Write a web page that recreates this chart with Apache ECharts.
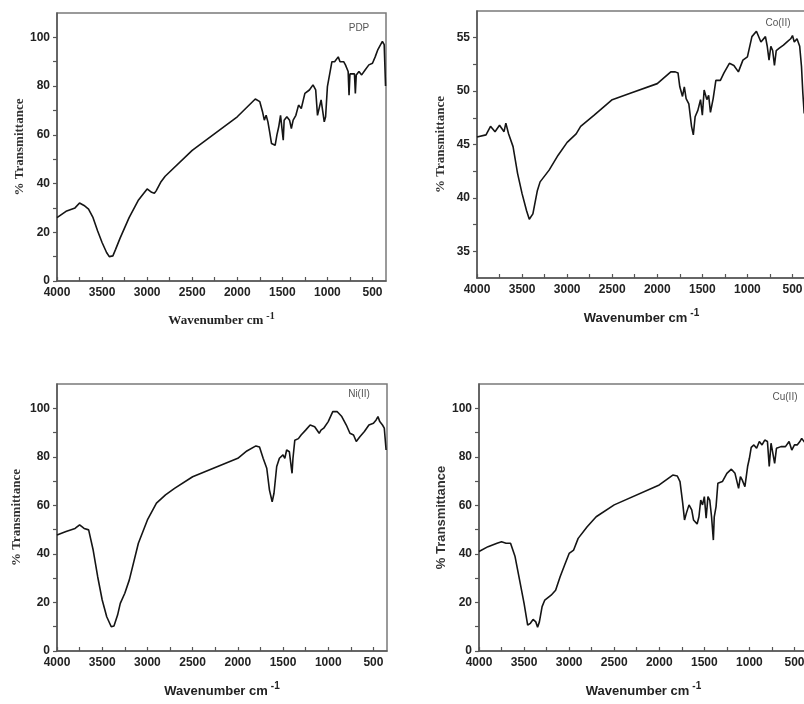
<!DOCTYPE html>
<html>
<head>
    <meta charset="utf-8">
    <title>FTIR spectra</title>
    <script src="https://cdn.jsdelivr.net/npm/echarts@6/dist/echarts.min.js"></script>
    <style>
        body { margin: 0; background: #fff; }
    </style>
</head>
<body>
    <div id="irChart" style="width: 804px;height:704px;"></div>
    <script type="text/javascript">
        // spectra: wavenumber (cm-1) and % transmittance
        var pdpWave = [4000,3900,3800,3750,3700,3650,3600,3550,3500,3450,3420,3380,3350,3300,3200,3100,3000,2980,2950,2920,2900,2850,2800,2500,2000,1800,1780,1750,1720,1700,1680,1660,1640,1620,1580,1560,1540,1520,1500,1490,1480,1450,1420,1400,1380,1350,1320,1290,1250,1200,1160,1130,1110,1090,1070,1050,1035,1020,1000,980,950,920,900,880,860,820,800,770,760,750,700,690,680,650,620,580,540,500,470,440,410,390,370,355];
        var pdpT = [26,28.6,30,32,31,29.5,26,20.6,15.8,11.7,10,10.3,13,17.6,26,33,37.8,37.5,36.4,36,37,40.5,43,53.6,67.4,74.7,75,73.6,69.5,66,68,65.3,61,56.4,55.7,60,63.3,68,68.8,57.8,66,67.4,66,62.6,66,68,72.2,70.8,77,78.4,80.5,78.4,68,67.4,74.3,73.6,65.3,67.4,79.8,80.5,90,90,90.8,92,90,90,88.7,86,76.3,85,85,77,84.6,86,84.6,86.7,88.7,89.4,92,95,97,98.3,97,80];

        var coWave = [4000,3900,3850,3800,3750,3700,3680,3650,3600,3550,3500,3450,3420,3380,3330,3300,3200,3100,3000,2900,2850,2700,2500,2300,2000,1850,1800,1770,1750,1720,1700,1680,1650,1620,1600,1580,1550,1520,1500,1480,1450,1430,1410,1380,1350,1300,1260,1200,1150,1100,1050,1000,950,900,880,850,800,780,760,740,720,700,680,650,600,560,520,500,480,450,420,400,385,370];
        var coT = [45.7,45.9,46.7,46.2,46.8,46.2,47,46,44.8,42.3,40.4,38.8,38,38.5,40.7,41.5,42.6,44,45.2,46,46.7,47.75,49.2,49.8,50.7,51.8,51.8,51.7,50.4,49.5,50.4,49.3,48.8,46.7,45.9,47.6,48.2,49.2,47.75,50.1,49.2,49.6,48,49.3,51,51,51.7,52.6,52.4,51.8,52.9,53.2,55.1,55.6,55.6,54.6,55.1,54.2,52.9,54.2,53.8,52.4,53.8,54,54.3,54.6,54.9,55.2,54.6,54.9,54.2,52.3,49.8,47.9];

        var niWave = [4000,3900,3800,3750,3700,3650,3600,3550,3500,3450,3400,3370,3330,3300,3250,3200,3100,3000,2900,2800,2700,2500,2000,1900,1800,1760,1720,1700,1680,1650,1620,1600,1570,1540,1500,1480,1460,1430,1410,1400,1390,1370,1330,1300,1250,1200,1150,1100,1080,1050,1000,950,900,850,800,760,720,690,650,600,550,500,470,450,430,400,380,360];
        var niT = [47.8,49.2,50.5,52,50.5,49.9,41.6,30.6,21,14.1,10,10.3,14.8,19.6,23.8,29.3,44.4,54,60.9,64.3,67,71.8,79.4,82.4,84.5,84,79.4,78.7,75.3,66.3,61.5,65,76,79.4,80.8,79.4,82.8,82.1,76,73.2,79.4,86.8,87.5,89,91,93.1,92.4,89.7,91,91.8,94.5,98.6,98.6,96.6,93.1,89.7,89,86.3,88.3,90.4,93.1,93.8,95.2,96.6,94.5,93.1,91.8,82.8];

        var cuWave = [4000,3900,3800,3750,3700,3650,3600,3550,3500,3460,3430,3400,3370,3350,3330,3300,3270,3200,3150,3100,3050,3000,2950,2900,2800,2700,2500,2000,1850,1800,1770,1740,1720,1700,1670,1640,1620,1580,1560,1540,1520,1500,1480,1460,1440,1420,1400,1390,1370,1350,1300,1250,1200,1160,1120,1100,1080,1050,1020,1000,980,950,920,890,860,830,800,780,760,740,720,700,650,600,560,530,500,470,440,420,400,380];
        var cuT = [41,43,44.4,45,44.4,44.4,38.9,29.3,19.6,10.7,11.4,13,12,9.8,12,18.3,21,23,25,30.6,35.4,40.2,41.6,46.4,51.2,55.3,60.2,68.4,72.5,72.1,69.8,60.9,54,56.7,60.2,58.1,54,52.3,55.3,62.2,60.2,63.6,54.7,63.6,62.2,55.3,45.7,55.3,59.5,69.1,69.8,73.2,74.9,73.2,67,71.8,70.5,67.7,76,79.4,83.9,84.9,83.5,86.3,84.9,86.9,86.3,76,85.6,86.3,77.3,83.5,84.2,84.2,86.3,82.8,84.9,84.9,86.3,87.6,86.9,85.6];

        var panelNames = ['PDP', 'Co(II)', 'Ni(II)', 'Cu(II)'];
        var waveTicks = [4000, 3500, 3000, 2500, 2000, 1500, 1000, 500];
        var waveMinor = [3750, 3250, 2750, 2250, 1750, 1250, 750];
        var pctTicks = [0, 20, 40, 60, 80, 100];
        var coTicks = [35, 40, 45, 50, 55];
        var coMinor = [37.5, 42.5, 47.5, 52.5];

        function pairs(xs, ys) {
            return xs.map(function (x, i) { return [x, ys[i]]; });
        }
        function plain(v) { return String(v); }

        var sans = 'Liberation Sans, Arial, sans-serif';
        var serif = 'Liberation Serif, Times New Roman, serif';

        // grid boxes [left, top, width, height]; right panels run past the page edge
        var boxes = [[57, 13, 329, 268], [477, 11, 329, 267], [57, 384, 330, 267], [479, 384, 329, 267]];
        var xTitleFont = [serif, sans, sans, sans];
        var yTitleFont = [serif, serif, serif, sans];
        var yTitleGap = [29, 30, 34, 29];

        var grids = [], xAxes = [], yAxes = [], series = [];
        var datasets = [pairs(pdpWave, pdpT), pairs(coWave, coT), pairs(niWave, niT), pairs(cuWave, cuT)];

        boxes.forEach(function (b, i) {
            grids.push({
                left: b[0], top: b[1], width: b[2], height: b[3],
                outerBoundsMode: 'none',
                containLabel: false,
                show: true, borderColor: '#7a7a7a', borderWidth: 1.5,
                backgroundColor: 'transparent'
            });
            xAxes.push({
                gridIndex: i,
                type: 'value',
                min: 350, max: 4000,
                inverse: true,
                name: '{a|Wavenumber cm}{s|-1}',
                nameLocation: 'middle',
                nameGap: 30,
                nameTextStyle: {
                    rich: {
                        a: { fontFamily: xTitleFont[i], fontWeight: 'bold', fontSize: 13, color: '#222', lineHeight: 20 },
                        s: { fontFamily: xTitleFont[i], fontWeight: 'bold', fontSize: 10, color: '#222', verticalAlign: 'top', lineHeight: 10, padding: [0, 0, 0, 3] }
                    }
                },
                axisLine: { onZero: false, lineStyle: { color: '#555', width: 1.5 } },
                axisTick: { inside: true, length: 4, customValues: waveTicks.concat(waveMinor), lineStyle: { color: '#555', width: 1.2 } },
                axisLabel: { customValues: waveTicks, formatter: plain, margin: 6, fontFamily: sans, fontWeight: 'bold', fontSize: 12, color: '#222' },
                splitLine: { show: false }
            });
            var isCo = i === 1;
            yAxes.push({
                gridIndex: i,
                type: 'value',
                min: isCo ? 32.5 : 0,
                max: isCo ? 57.5 : 110,
                name: '% Transmittance',
                nameLocation: 'middle',
                nameRotate: 90,
                nameGap: yTitleGap[i],
                nameTextStyle: { fontFamily: yTitleFont[i], fontWeight: 'bold', fontSize: 13, color: '#333' },
                axisLine: { onZero: false, lineStyle: { color: '#555', width: 1.5 } },
                axisTick: {
                    length: 4,
                    customValues: isCo ? coTicks.concat(coMinor) : pctTicks.concat([10, 30, 50, 70, 90]),
                    lineStyle: { color: '#555', width: 1.2 }
                },
                axisLabel: { customValues: isCo ? coTicks : pctTicks, formatter: plain, margin: 7, fontFamily: sans, fontWeight: 'bold', fontSize: 12, color: '#222' },
                splitLine: { show: false }
            });
            series.push({
                name: panelNames[i],
                type: 'line',
                xAxisIndex: i,
                yAxisIndex: i,
                data: datasets[i],
                showSymbol: false,
                silent: true,
                lineStyle: { color: '#151515', width: 1.6 }
            });
        });

        // panel tags in the upper right corner of each box
        var tagPos = [[359, 28], [778, 23], [359, 394], [785, 397]];
        var graphics = panelNames.map(function (t, i) {
            return {
                type: 'text',
                x: tagPos[i][0], y: tagPos[i][1],
                style: { text: t, fontFamily: sans, fontSize: 10, fill: '#555', align: 'center', verticalAlign: 'middle' }
            };
        });

        var myChart = echarts.init(document.getElementById('irChart'));
        myChart.setOption({
            animation: false,
            backgroundColor: '#fff',
            grid: grids,
            xAxis: xAxes,
            yAxis: yAxes,
            series: series,
            graphic: graphics
        });
    </script>
</body>
</html>
